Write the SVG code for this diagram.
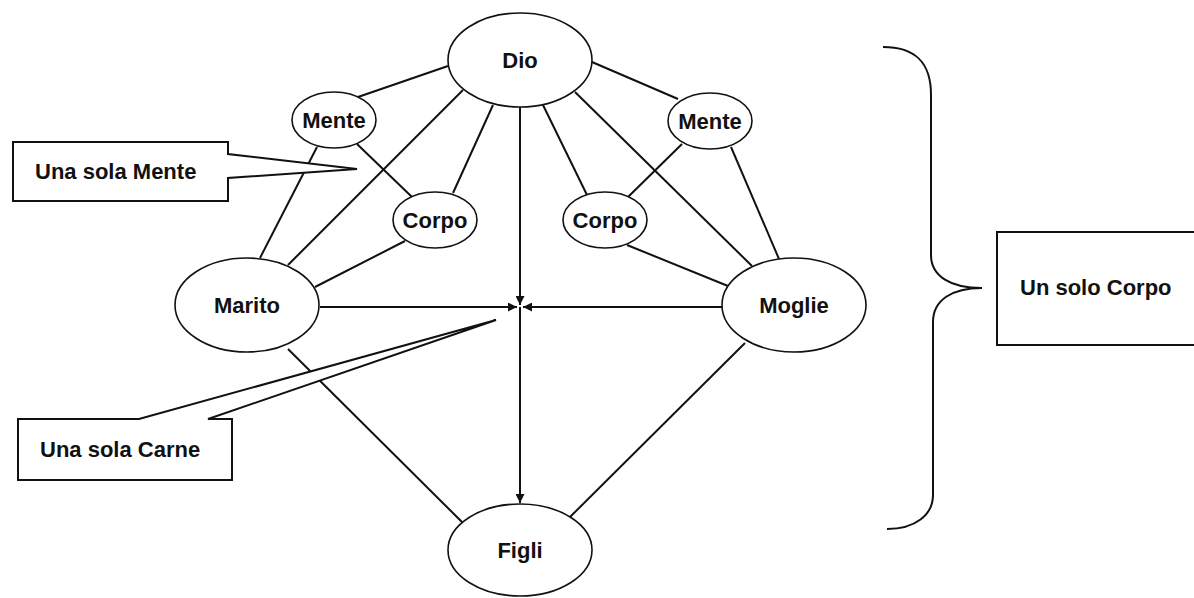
<svg xmlns="http://www.w3.org/2000/svg" width="1194" height="598" viewBox="0 0 1194 598">
<style>
.n{fill:#fff;stroke:#111;stroke-width:1.6}
.t{font-family:"Liberation Sans",Arial,sans-serif;font-weight:bold;font-size:22px;fill:#111;text-anchor:middle}
.tl{font-family:"Liberation Sans",Arial,sans-serif;font-weight:bold;font-size:22px;fill:#111}
.c{stroke:#111;stroke-width:2;fill:none}
.co{fill:#fff;stroke:#111;stroke-width:2;stroke-linejoin:miter}
</style>
<defs>
<marker id="ah" viewBox="0 0 10 10" refX="10" refY="5" markerWidth="10" markerHeight="9" markerUnits="userSpaceOnUse" orient="auto">
<path d="M0,0 L10,5 L0,10 Z" fill="#111"/>
</marker>
</defs>
<rect width="1194" height="598" fill="#fff"/>
<g id="connectors">
<line class="c" x1="448" y1="66" x2="358" y2="97"/>
<line class="c" x1="463" y1="90" x2="288" y2="265"/>
<line class="c" x1="493" y1="105" x2="453" y2="193"/>
<line class="c" x1="543" y1="105" x2="587" y2="195"/>
<line class="c" x1="575" y1="92" x2="752" y2="266"/>
<line class="c" x1="592" y1="62" x2="678" y2="99"/>
<line class="c" x1="317" y1="147" x2="260" y2="258"/>
<line class="c" x1="357" y1="144" x2="412" y2="197"/>
<line class="c" x1="405" y1="241" x2="315" y2="287"/>
<line class="c" x1="682" y1="144" x2="628" y2="197"/>
<line class="c" x1="731" y1="147" x2="779" y2="259"/>
<line class="c" x1="627" y1="245" x2="728" y2="286"/>
<line class="c" x1="288" y1="349" x2="463" y2="523"/>
<line class="c" x1="745" y1="343" x2="570" y2="517"/>
<line class="c" x1="320" y1="307" x2="517" y2="307" marker-end="url(#ah)"/>
<line class="c" x1="722" y1="307" x2="523" y2="307" marker-end="url(#ah)"/>
<line class="c" x1="520" y1="107" x2="520" y2="305" marker-end="url(#ah)"/>
<line class="c" x1="520" y1="307" x2="520" y2="503" marker-end="url(#ah)"/>
</g>
<g id="dio"><ellipse class="n" cx="520" cy="60" rx="72" ry="47"/><text class="t" x="520" y="68">Dio</text></g>
<g id="mente-l"><ellipse class="n" cx="334" cy="120" rx="42" ry="28"/><text class="t" x="334" y="128">Mente</text></g>
<g id="corpo-l"><ellipse class="n" cx="435" cy="220" rx="42" ry="28"/><text class="t" x="435" y="228">Corpo</text></g>
<g id="mente-r"><ellipse class="n" cx="710" cy="121" rx="42" ry="28"/><text class="t" x="710" y="129">Mente</text></g>
<g id="corpo-r"><ellipse class="n" cx="605" cy="220" rx="42" ry="28"/><text class="t" x="605" y="228">Corpo</text></g>
<g id="marito"><ellipse class="n" cx="247" cy="305" rx="72" ry="47"/><text class="t" x="247" y="313">Marito</text></g>
<g id="moglie"><ellipse class="n" cx="794" cy="305" rx="72" ry="47"/><text class="t" x="794" y="313">Moglie</text></g>
<g id="figli"><ellipse class="n" cx="520" cy="550" rx="72" ry="46"/><text class="t" x="520" y="558">Figli</text></g>
<g id="una-sola-mente">
<polygon class="co" points="13,142 228,142 228,154 357,169 228,178 228,201 13,201"/>
<text class="tl" x="35" y="179">Una sola Mente</text>
</g>
<g id="una-sola-carne">
<polygon class="co" points="18,419 139,419 496,320 208,419 232,419 232,480 18,480"/>
<text class="tl" x="40" y="457">Una sola Carne</text>
</g>
<g id="brace">
<path class="c" d="M883,47 C915,47 931,62 931,95 L931,255 C931,276 950,288 982,288 C952,288 933,300 933,322 L933,495 C933,515 915,529 887,529"/>
</g>
<g id="un-solo-corpo">
<rect class="co" x="997" y="232" width="210" height="113"/>
<text class="tl" x="1020" y="295">Un solo Corpo</text>
</g>
</svg>
